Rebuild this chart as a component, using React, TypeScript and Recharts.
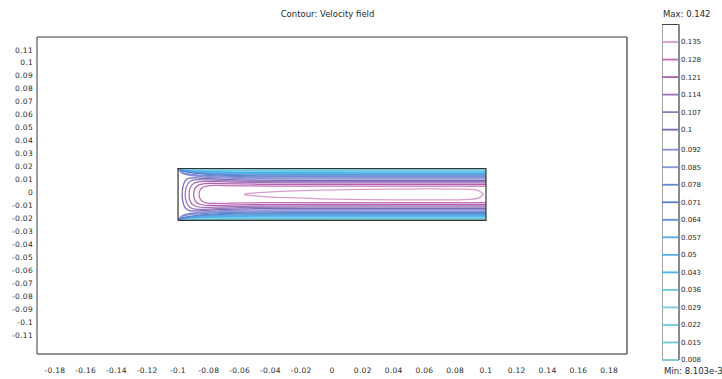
import React from 'react';
import { ComposedChart, Line, XAxis, YAxis, ReferenceLine, ReferenceArea } from 'recharts';

// Contour levels of the velocity magnitude and the colour of each level line.
const levels = [
  0.008, 0.015, 0.022, 0.029, 0.036, 0.043, 0.05, 0.057, 0.064, 0.071,
  0.078, 0.085, 0.092, 0.1, 0.107, 0.114, 0.121, 0.128, 0.135,
];
const levelColors = [
  '#86d2d6', '#72c8d2', '#72c8da', '#7ccce6', '#6cc4ee', '#44b6ee', '#56aee6', '#5ea6e0', '#5a94d8', '#5a82cc',
  '#6886cc', '#8494d6', '#8a8ed6', '#7a68b8', '#9478bc', '#a070b8', '#b062ac', '#c46cb6', '#d89ccc',
];
const maxValue = 0.142;
const minValueText = 'Min: 8.103e-3';
const maxValueText = 'Max: 0.142';
const titleText = 'Contour: Velocity field';

// Axis ticks.
const xTicks = [-0.18, -0.16, -0.14, -0.12, -0.1, -0.08, -0.06, -0.04, -0.02, 0, 0.02, 0.04, 0.06, 0.08, 0.1, 0.12, 0.14, 0.16, 0.18];
const yTicks = [0.11, 0.1, 0.09, 0.08, 0.07, 0.06, 0.05, 0.04, 0.03, 0.02, 0.01, 0, -0.01, -0.02, -0.03, -0.04, -0.05, -0.06, -0.07, -0.08, -0.09, -0.1, -0.11];
const xDomain: [number, number] = [-0.1916, 0.1916];
const yDomain: [number, number] = [-0.1232, 0.1215];

// Channel walls.
const channelX = [-0.1, 0.1];
const channelY = [-0.02, 0.02];

// Levels below the inlet speed: wall-layer contours, upper half-offset at each station
// (the lower wall is the mirror image).
const wallStations = [-0.1, -0.098, -0.095, -0.09, -0.083, -0.073, -0.06, -0.045, 0.1];
const wallOffsets = [
  [0.02, 0.0198, 0.0197, 0.0196, 0.0196, 0.0195, 0.0194, 0.0194, 0.0194],
  [0.02, 0.0197, 0.0195, 0.0193, 0.0192, 0.019, 0.019, 0.0189, 0.0189],
  [0.02, 0.0195, 0.0193, 0.019, 0.0188, 0.0186, 0.0185, 0.0184, 0.0184],
  [0.02, 0.0193, 0.019, 0.0187, 0.0184, 0.0181, 0.0179, 0.0178, 0.0178],
  [0.02, 0.0192, 0.0188, 0.0184, 0.018, 0.0177, 0.0174, 0.0173, 0.0173],
  [0.02, 0.019, 0.0185, 0.018, 0.0175, 0.0171, 0.0169, 0.0167, 0.0167],
  [0.02, 0.0188, 0.0182, 0.0177, 0.0171, 0.0166, 0.0163, 0.0161, 0.0161],
  [0.02, 0.0187, 0.018, 0.0173, 0.0166, 0.0161, 0.0157, 0.0155, 0.0155],
  [0.02, 0.0184, 0.0177, 0.0169, 0.0161, 0.0155, 0.0151, 0.0148, 0.0148],
  [0.02, 0.0182, 0.0173, 0.0165, 0.0156, 0.0149, 0.0144, 0.0141, 0.0141],
  [0.02, 0.017, 0.016, 0.0152, 0.0146, 0.0141, 0.0137, 0.0134, 0.0134],
  [0.02, 0.0167, 0.0156, 0.0147, 0.014, 0.0134, 0.013, 0.0127, 0.0127],
  [0.02, 0.0164, 0.0151, 0.0142, 0.0134, 0.0127, 0.0122, 0.0119, 0.0119],
];

// Levels above the inlet speed: core contours, upper branch from the nose on the
// centre line towards the outlet (mirrored for the lower branch).
const coreBranches: [number, number][][] = [
  [[-0.0975, 0], [-0.097, 0.006], [-0.0955, 0.011], [-0.093, 0.0128], [-0.088, 0.0128], [-0.08, 0.0122], [-0.07, 0.0116], [-0.055, 0.011], [-0.04, 0.0109], [0.1, 0.0109]],
  [[-0.0955, 0], [-0.095, 0.005], [-0.0935, 0.009], [-0.091, 0.0113], [-0.086, 0.0116], [-0.078, 0.0111], [-0.068, 0.0105], [-0.052, 0.01], [-0.035, 0.0099], [0.1, 0.0099]],
  [[-0.093, 0], [-0.0925, 0.0045], [-0.091, 0.0078], [-0.088, 0.0098], [-0.083, 0.0102], [-0.075, 0.0098], [-0.065, 0.0094], [-0.05, 0.009], [-0.03, 0.0089], [0.1, 0.0089]],
  [[-0.09, 0], [-0.0895, 0.004], [-0.088, 0.0066], [-0.085, 0.0082], [-0.08, 0.0086], [-0.072, 0.0084], [-0.062, 0.0081], [-0.048, 0.0078], [-0.03, 0.0077], [0.1, 0.0077]],
  [[-0.0865, 0], [-0.086, 0.0032], [-0.0845, 0.0054], [-0.082, 0.0066], [-0.077, 0.007], [-0.07, 0.0069], [-0.06, 0.0066], [-0.045, 0.0064], [-0.02, 0.0063], [0.1, 0.0063]],
  [[-0.058, 0], [-0.055, 0.0008], [-0.045, 0.0016], [-0.03, 0.0026], [-0.01, 0.0034], [0.02, 0.004], [0.06, 0.0043], [0.09, 0.0042], [0.096, 0.003], [0.0985, 0]],
];

type Pt = { x: number; y: number };
type Series = { key: string; color: string; pts: Pt[] };

const contourSeries: Series[] = [];
wallOffsets.forEach((row, i) => {
  contourSeries.push({ key: `w${i}u`, color: levelColors[i], pts: wallStations.map((x, j) => ({ x, y: row[j] })) });
  contourSeries.push({ key: `w${i}l`, color: levelColors[i], pts: wallStations.map((x, j) => ({ x, y: -row[j] })) });
});
coreBranches.forEach((branch, k) => {
  const i = wallOffsets.length + k;
  const lower = [...branch].reverse().map(([x, y]) => ({ x, y: -y }));
  const upper = branch.slice(1).map(([x, y]) => ({ x, y }));
  contourSeries.push({ key: `c${k}`, color: levelColors[i], pts: [...lower, ...upper] });
});

const channelOutline: Pt[] = [
  { x: channelX[0], y: channelY[0] },
  { x: channelX[1], y: channelY[0] },
  { x: channelX[1], y: channelY[1] },
  { x: channelX[0], y: channelY[1] },
  { x: channelX[0], y: channelY[0] },
];

const FONT = '"DejaVu Sans", Verdana, sans-serif';
const TEXT = '#2a2a2a';

const YTick = (props: any) => {
  const { x, y, payload } = props;
  return (
    <text x={x} y={y - 2} dy="0.35em" textAnchor="end" fontFamily={FONT} fontSize={7.5} letterSpacing={0.3} fill={TEXT}>
      {String(payload.value)}
    </text>
  );
};

const XTick = (props: any) => {
  const { x, y, payload } = props;
  return (
    <text x={x} y={y} dy="0.71em" textAnchor="middle" fontFamily={FONT} fontSize={7.5} letterSpacing={0.3} fill={TEXT}>
      {String(payload.value)}
    </text>
  );
};

const LegendTick = (props: any) => {
  const { x, y, payload } = props;
  return (
    <text x={x} y={y} dy="0.35em" textAnchor="start" fontFamily={FONT} fontSize={7} fill={TEXT}>
      {String(payload.value)}
    </text>
  );
};

const legendRows = levels.map((v) => ({ x: 0.5, v }));

export default function App() {
  return (
    <div style={{ position: 'absolute', left: 0, top: 0, width: 722, height: 379, background: '#fff', overflow: 'hidden' }}>
      <div style={{ position: 'absolute', left: 0, top: 0 }}>
        <ComposedChart width={722} height={379} margin={{ top: 37, right: 95, bottom: 0, left: 0 }}>
          <XAxis
            type="number"
            dataKey="x"
            domain={xDomain}
            ticks={xTicks}
            interval={0}
            height={25}
            tickSize={0}
            tickMargin={14}
            tick={<XTick />}
            axisLine={{ stroke: '#6a6a6a', strokeWidth: 1.6 }}
            tickLine={false}
            allowDataOverflow
          />
          <YAxis
            type="number"
            dataKey="y"
            domain={yDomain}
            ticks={yTicks}
            interval={0}
            width={37}
            tickSize={0}
            tickMargin={4}
            tick={<YTick />}
            axisLine={{ stroke: '#3a3a3a', strokeWidth: 1 }}
            tickLine={false}
            allowDataOverflow
          />
          <ReferenceLine y={yDomain[1]} stroke="#3a3a3a" strokeWidth={1} />
          <ReferenceLine x={xDomain[1]} stroke="#6a6a6a" strokeWidth={1.6} />
          {contourSeries.map((s) => (
            <Line
              key={s.key}
              data={s.pts}
              dataKey="y"
              type="basis"
              stroke={s.color}
              strokeWidth={1.25}
              dot={false}
              activeDot={false}
              isAnimationActive={false}
            />
          ))}
          <Line
            data={channelOutline}
            dataKey="y"
            type="linear"
            stroke="#333"
            strokeWidth={1.2}
            dot={false}
            activeDot={false}
            isAnimationActive={false}
          />
        </ComposedChart>
      </div>
      <div style={{ position: 'absolute', left: 662, top: 0 }}>
        <ComposedChart width={60} height={379} data={legendRows} margin={{ top: 24.5, right: 0, bottom: 19, left: 0 }}>
          <XAxis type="number" dataKey="x" domain={[0, 1]} hide />
          <YAxis
            type="number"
            orientation="right"
            domain={[levels[0], maxValue]}
            ticks={levels}
            interval={0}
            width={43}
            tickSize={0}
            tickMargin={2}
            tick={<LegendTick />}
            axisLine={false}
            tickLine={false}
            allowDataOverflow
          />
          <ReferenceArea x1={0} x2={1} y1={levels[0]} y2={maxValue} fill="none" stroke="#444" strokeWidth={1} />
          {levels.map((v, i) => (
            <ReferenceLine key={v} y={v} stroke={levelColors[i]} strokeWidth={1.8} />
          ))}
          <ReferenceLine x={1} stroke="#8a8a8a" strokeWidth={2} />
        </ComposedChart>
      </div>
      <svg width={722} height={379} style={{ position: 'absolute', left: 0, top: 0, pointerEvents: 'none' }}>
        <text x={327.5} y={16.7} textAnchor="middle" fontFamily={FONT} fontSize={8.5} fill={TEXT}>{titleText}</text>
        <text x={663} y={16.7} textAnchor="start" fontFamily={FONT} fontSize={8.5} fill={TEXT}>{maxValueText}</text>
        <text x={664} y={373.5} textAnchor="start" fontFamily={FONT} fontSize={8.5} fill={TEXT}>{minValueText}</text>
      </svg>
    </div>
  );
}
